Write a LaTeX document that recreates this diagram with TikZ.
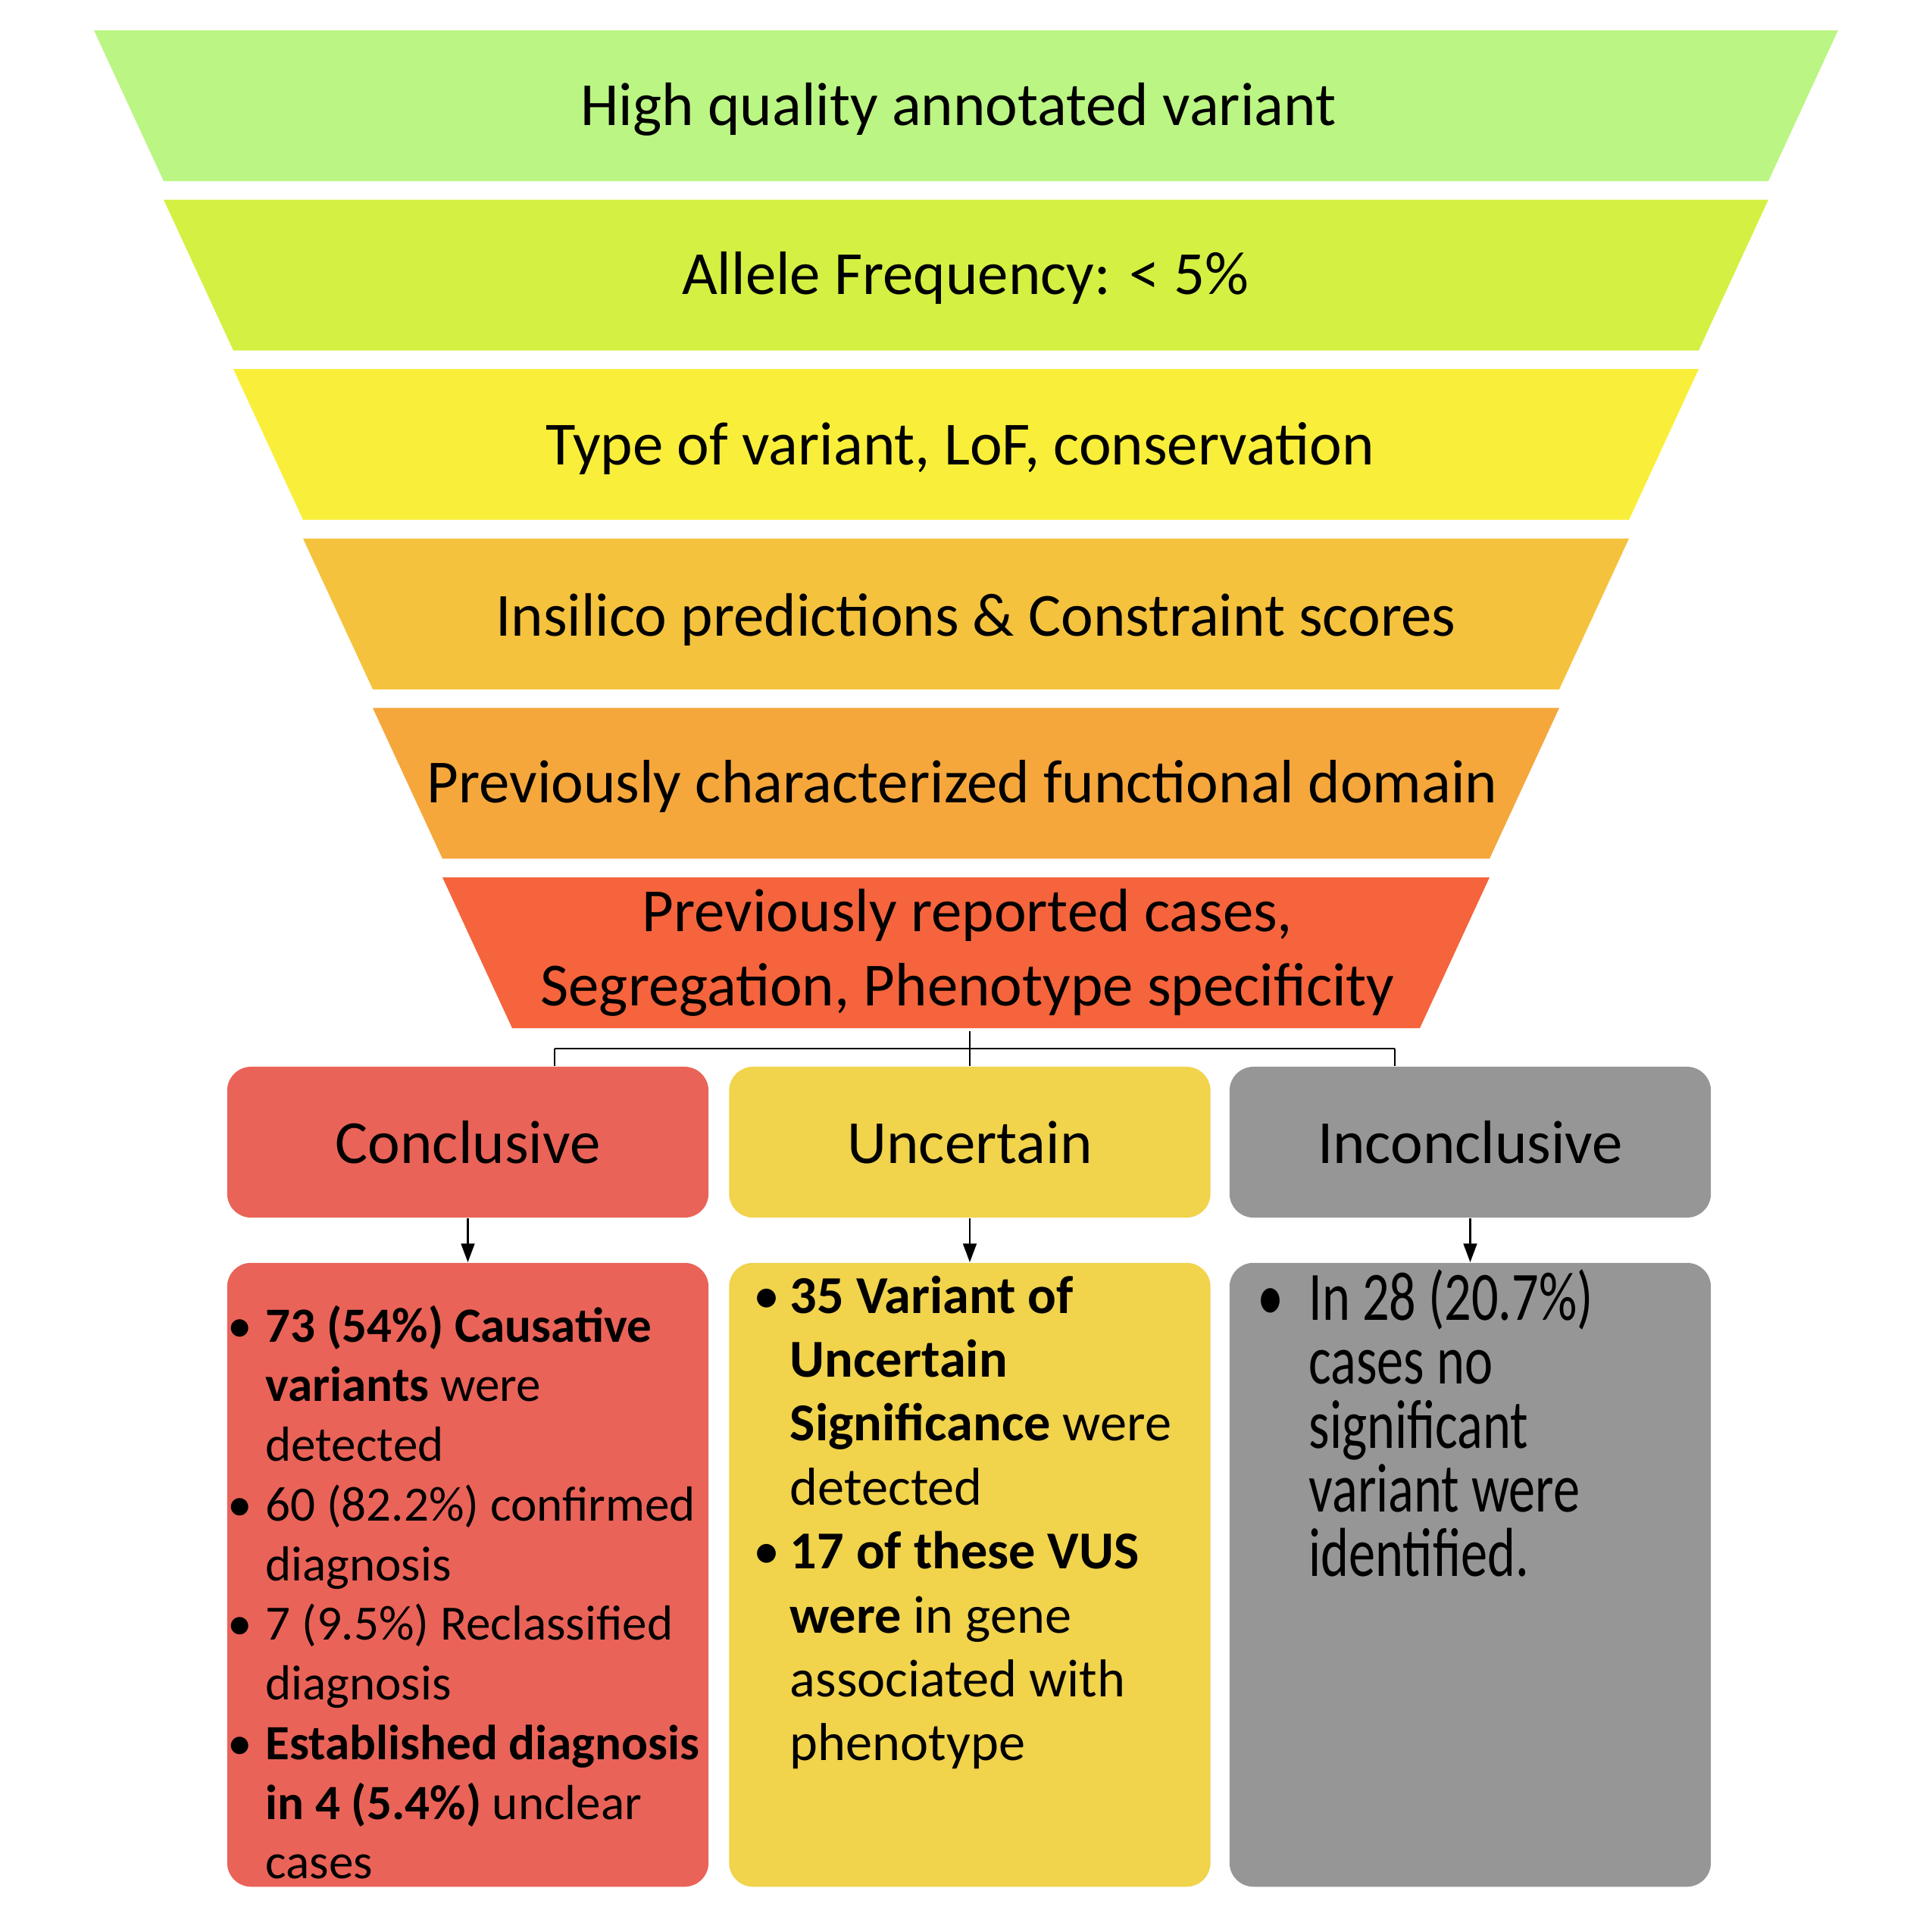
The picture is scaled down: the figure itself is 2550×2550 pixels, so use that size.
\documentclass[tikz,border=0pt]{standalone}
\usepackage{fontspec}
\usepackage{graphicx}
\setmainfont{Carlito}
\usetikzlibrary{arrows.meta}

\definecolor{funA}{HTML}{BBF583}
\definecolor{funB}{HTML}{D4F042}
\definecolor{funC}{HTML}{F9EF3A}
\definecolor{funD}{HTML}{F5C23D}
\definecolor{funE}{HTML}{F5A73C}
\definecolor{funF}{HTML}{F5643C}
\definecolor{concred}{HTML}{EA6358}
\definecolor{uncyellow}{HTML}{F1D34C}
\definecolor{incgray}{HTML}{969696}

\newlength{\bulind}
\newcommand{\bul}[1]{\par\hangindent=\bulind\hangafter=1\noindent\makebox[\bulind][l]{\textbullet}#1\par}

\tikzset{
  bandtext/.style={font=\fontsize{23}{27.8}\selectfont, align=center},
  hdr/.style={rounded corners=9pt, minimum width=6.35cm, minimum height=1.99cm,
    font=\fontsize{23}{27.8}\selectfont},
  casebox/.style={rounded corners=9pt, minimum width=6.35cm, minimum height=8.23cm},
  casetext/.style={anchor=base west, inner sep=0pt},
  link/.style={line width=0.8pt},
  flow/.style={line width=0.8pt, -{Triangle[width=5pt,length=7pt]}}
}

\begin{document}
\begin{tikzpicture}[x=0.01cm, y=-0.01cm]
\useasboundingbox (0,0) rectangle (2550,2550);

% funnel
\foreach \i/\col in {0/funA,1/funB,2/funC,3/funD,4/funE,5/funF}{
  \fill[\col] ({124+92*\i},{40+223.6*\i}) -- ({2426-92*\i},{40+223.6*\i})
    -- ({2334-92*\i},{239+223.6*\i}) -- ({216+92*\i},{239+223.6*\i}) -- cycle;
}

\node[bandtext] (hq) at (1265,144) {High quality annotated variant};
\node[bandtext] (af) at (1274,367) {Allele Frequency: < 5\%};
\node[bandtext] (tv) at (1267,592) {Type of variant, LoF, conservation};
\node[bandtext] (is) at (1288,818) {Insilico predictions \& Constraint scores};
\node[bandtext] (pc) at (1270,1038) {Previously characterized functional domain};
\node[bandtext] (pr) at (1277,1257) {Previously reported cases,\\Segregation, Phenotype specificity};
\coordinate (fbot) at (1280,1361);

% outcome headers
\node[hdr, fill=concred] (conc) at (617.5,1507.5) {Conclusive};
\node[hdr, fill=uncyellow] (unc) at (1280,1507.5) {Uncertain};
\node[hdr, fill=incgray] (inc) at (1940.5,1507.5) {Inconclusive};

\coordinate (splitL) at (732,1384);
\coordinate (splitR) at (1841,1384);
\draw[link] (fbot) -- (unc.north);
\draw[link] (splitL) -- (splitR);
\draw[link] (splitL) -- (splitL |- conc.north);
\draw[link] (splitR) -- (splitR |- inc.north);

% outcome details
\node[casebox, fill=concred] (concbox) at (617.5,2078.5) {};
\node[casebox, fill=uncyellow] (uncbox) at (1280,2078.5) {};
\node[casebox, fill=incgray] (incbox) at (1940.5,2078.5) {};

\draw[flow] (conc) -- (concbox);
\draw[flow] (unc) -- (uncbox);
\draw[flow] (inc) -- (incbox);

\node[casetext, font=\fontsize{18.5}{22.4}\selectfont] (conctext) at (300,1771) {%
  \parbox[t]{7cm}{\setlength{\bulind}{14.2pt}\raggedright
  \bul{\textbf{73 (54\%) Causative}\newline\textbf{variants} were\newline detected}
  \bul{60 (82.2\%) confirmed\newline diagnosis}
  \bul{7 (9.5\%) Reclassified\newline diagnosis}
  \bul{\textbf{Established diagnosis}\newline\textbf{in 4 (5.4\%)} unclear\newline cases}}};

\node[casetext, font=\fontsize{20}{24}\selectfont] (unctext) at (994,1733) {%
  \parbox[t]{7cm}{\setlength{\bulind}{13.7pt}\raggedright
  \bul{\textbf{35 Variant of}\newline\textbf{Uncertain}\newline\textbf{Significance} were\newline detected}
  \bul{\textbf{17 of these VUS}\newline\textbf{were} in gene\newline associated with\newline phenotype}}};

\node[casetext, font=\fontsize{20}{18.5}\selectfont] (inctext) at (1659,1742) {%
  \scalebox{1}[1.3]{\parbox[t]{6cm}{\setlength{\bulind}{19.3pt}\raggedright
  \bul{In 28 (20.7\%)\newline cases no\newline significant\newline variant were\newline identified.}}}};
\end{tikzpicture}
\end{document}
